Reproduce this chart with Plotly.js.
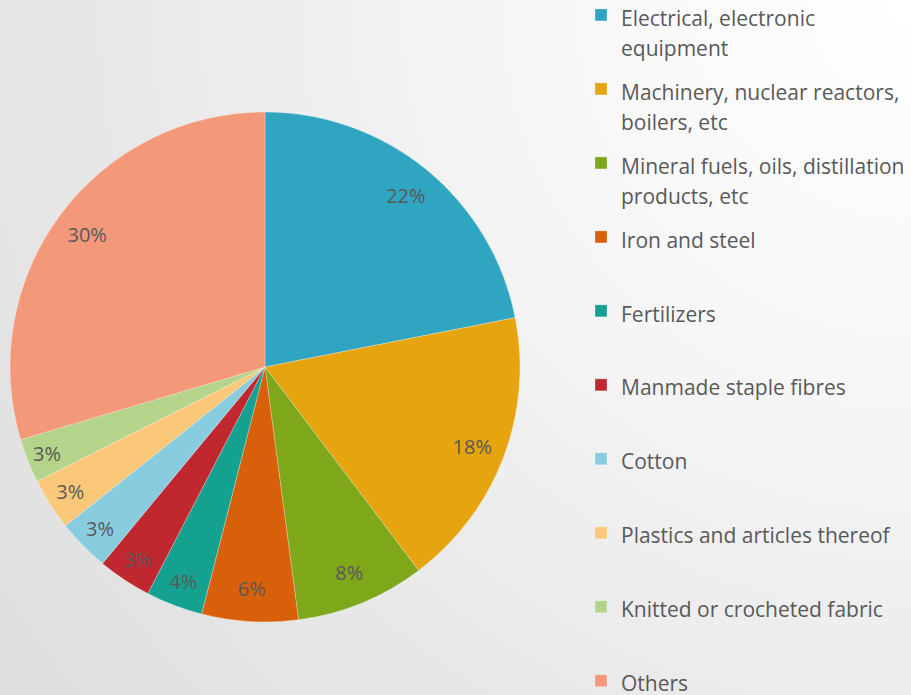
<!DOCTYPE html>
<html>
<head>
<meta charset="utf-8">
<script src="https://cdn.plot.ly/plotly-3.0.1.min.js"></script>
<style>
html, body { margin:0; padding:0; }
body { width:911px; height:695px; overflow:hidden;
  background: radial-gradient(circle at 100% 0%, #ffffff 0%, #f6f6f6 35%, #e8e8e8 70%, #dedede 100%); }
#chart { width:911px; height:695px; }
</style>
</head>
<body>
<div id="chart"></div>
<script>
var categories = [
  "Electrical, electronic<br>equipment",
  "Machinery, nuclear reactors,<br>boilers, etc",
  "Mineral fuels, oils, distillation<br>products, etc",
  "Iron and steel",
  "Fertilizers",
  "Manmade staple fibres",
  "Cotton",
  "Plastics and articles thereof",
  "Knitted or crocheted fabric",
  "Others"
];
var shares = [21.9, 17.8, 8.2, 6.1, 3.6, 3.4, 3.3, 3.3, 2.8, 29.6];
var colors = ["#2fa5c1", "#e6a40e", "#7fa71a", "#d9600a", "#14a18f",
              "#c0272f", "#88cce0", "#fbc87a", "#b3d48a", "#f4987a"];

var FONT = "'Open Sans', sans-serif";

// legend text: each entry padded to two lines for even spacing (except last)
var legendText = categories.map(function (c, i) {
  var t = c.indexOf("<br>") >= 0 ? c : (i === categories.length - 1 ? c : c + "<br> ");
  return "<span style='font-size:21px'>" +
    t.replace("<br>", "</span><br><span style='font-size:21px;baseline-shift:5px'>") + "</span>";
});

var domain = { x: [10/911, 520/911], y: [1 - 622/695, 1 - 112/695] };

// filled pie (slices + legend)
var pieTrace = {
  type: "pie",
  labels: legendText,
  values: shares,
  sort: false,
  direction: "clockwise",
  rotation: 0,
  marker: { colors: colors, line: { color: "rgba(255,255,255,0.45)", width: 0.6 } },
  textinfo: "none",
  hoverinfo: "label+percent",
  domain: domain
};

// transparent ring carrying the percentage labels near the rim
var labelTrace = {
  type: "pie",
  labels: legendText,
  values: shares,
  sort: false,
  direction: "clockwise",
  rotation: 0,
  hole: 0.74,
  showlegend: false,
  marker: { colors: colors.map(function () { return "rgba(0,0,0,0)"; }), line: { width: 0 } },
  texttemplate: "%{percent:.0%}",
  textposition: "inside",
  insidetextorientation: "horizontal",
  textfont: { family: FONT, size: 20, color: "#595959" },
  hoverinfo: "skip",
  domain: domain
};

var layout = {
  width: 911, height: 695,
  margin: { l: 0, r: 0, t: 0, b: 0, autoexpand: false },
  paper_bgcolor: "rgba(0,0,0,0)",
  plot_bgcolor: "rgba(0,0,0,0)",
  showlegend: true,
  uniformtext: { mode: "show", minsize: 20 },
  legend: {
    x: 581/911, xanchor: "left",
    y: 1.0134, yanchor: "top",
    valign: "top",
    maxheight: 2000,
    font: { family: FONT, size: 27.3, color: "#595959" },
    bgcolor: "rgba(0,0,0,0)",
    traceorder: "normal"
  }
};

Plotly.newPlot("chart", [pieTrace, labelTrace], layout, { displayModeBar: false, staticPlot: true });
</script>
</body>
</html>
